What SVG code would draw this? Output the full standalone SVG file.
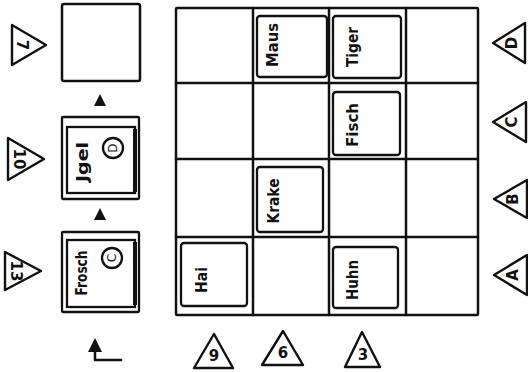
<svg xmlns="http://www.w3.org/2000/svg" width="528" height="372" viewBox="0 0 528 372">
<style>
.ln{fill:none;stroke:#111;stroke-width:2.5;stroke-linejoin:round;stroke-linecap:round}
.card{fill:none;stroke:#111;stroke-width:2.3;}
.tri{fill:#fff;stroke:#111;stroke-width:2.4;stroke-linejoin:round}
.t{font-family:"DejaVu Sans","Liberation Sans",sans-serif;font-size:15px;font-weight:bold;fill:#111;text-anchor:middle;dominant-baseline:central}
.c{font-weight:normal;font-size:12px}
.fill{fill:#111}
</style>
<rect width="528" height="372" fill="#fff"/>
<g id="grid">
<rect class="ln" x="176" y="8" width="302" height="307" rx="1"/>
<line class="ln" x1="253" y1="8" x2="253" y2="315"/>
<line class="ln" x1="329" y1="8" x2="329" y2="315"/>
<line class="ln" x1="406" y1="8" x2="406" y2="315"/>
<line class="ln" x1="176" y1="83" x2="478" y2="83"/>
<line class="ln" x1="176" y1="159" x2="478" y2="159"/>
<line class="ln" x1="176" y1="237" x2="478" y2="237"/>
</g>
<g id="maus"><rect class="card" x="257" y="16" width="70" height="61" rx="3"/><text class="t" transform="translate(273,45) rotate(-90)" textLength="44" lengthAdjust="spacingAndGlyphs">Maus</text></g>
<g id="tiger"><rect class="card" x="333" y="16" width="68" height="62" rx="3"/><text class="t" transform="translate(353,47) rotate(-90)" textLength="40" lengthAdjust="spacingAndGlyphs">Tiger</text></g>
<g id="fisch"><rect class="card" x="333" y="92" width="67" height="63" rx="3"/><text class="t" transform="translate(353,125) rotate(-90)" textLength="44" lengthAdjust="spacingAndGlyphs">Fisch</text></g>
<g id="krake"><rect class="card" x="257" y="167" width="66" height="65" rx="3"/><text class="t" transform="translate(274,201) rotate(-90)" textLength="45" lengthAdjust="spacingAndGlyphs">Krake</text></g>
<g id="hai"><rect class="card" x="181" y="243" width="66" height="63" rx="3"/><text class="t" transform="translate(202,280) rotate(-90)" textLength="26" lengthAdjust="spacingAndGlyphs">Hai</text></g>
<g id="huhn"><rect class="card" x="333" y="247" width="65" height="61" rx="3"/><text class="t" transform="translate(353,280) rotate(-90)" textLength="40" lengthAdjust="spacingAndGlyphs">Huhn</text></g>
<g id="empty"><rect class="ln" x="62" y="4" width="78" height="77" rx="2"/></g>
<g id="jgel">
<rect class="card" x="62" y="117" width="77" height="82" rx="1"/>
<rect class="card" x="67" y="127" width="68" height="66"/>
<rect class="fill" x="133" y="129" width="4" height="63"/>
<text class="t" transform="translate(83,162) rotate(-90)" textLength="40" lengthAdjust="spacingAndGlyphs">Jgel</text>
<circle class="card" cx="113" cy="148" r="10"/>
<text class="t c" transform="translate(113,148) rotate(-90)">D</text>
</g>
<g id="frosch">
<rect class="card" x="62" y="232" width="77" height="80" rx="1"/>
<rect class="card" x="67" y="240" width="68" height="67"/>
<rect class="fill" x="133" y="242" width="4" height="63"/>
<text class="t" transform="translate(82,273) rotate(-90)" textLength="45" lengthAdjust="spacingAndGlyphs">Frosch</text>
<circle class="card" cx="112" cy="258" r="10"/>
<text class="t c" transform="translate(112,258) rotate(-90)">C</text>
</g>
<g id="l7"><polygon class="tri" points="12,25 12,65 46,45"/><text class="t" transform="translate(22,45) rotate(90)" font-size="14">7</text></g>
<g id="l10"><polygon class="tri" points="8,138 8,180 44,159"/><text class="t" transform="translate(19,159) rotate(90)" font-size="13">10</text></g>
<g id="l13"><polygon class="tri" points="5,252 5,290 41,271"/><text class="t" transform="translate(16,271) rotate(90)" font-size="13">13</text></g>
<g id="b9"><polygon class="tri" points="194,368 233,368 214,334"/><text class="t" x="214" y="356" font-size="14">9</text></g>
<g id="b6"><polygon class="tri" points="262,365 303,365 283,331"/><text class="t" x="283" y="353" font-size="14">6</text></g>
<g id="b3"><polygon class="tri" points="345,367 380,367 362,332"/><text class="t" x="363" y="355" font-size="14">3</text></g>
<g id="rD"><polygon class="tri" points="493,43 525,23 525,63"/><text class="t" transform="translate(512,43) rotate(-90)" font-size="13">D</text></g>
<g id="rC"><polygon class="tri" points="493,122 526,102 526,142"/><text class="t" transform="translate(512,122) rotate(-90)" font-size="13">C</text></g>
<g id="rB"><polygon class="tri" points="494,199 527,180 527,218"/><text class="t" transform="translate(513,199) rotate(-90)" font-size="13">B</text></g>
<g id="rA"><polygon class="tri" points="494,275 527,255 527,295"/><text class="t" transform="translate(513,275) rotate(-90)" font-size="13">A</text></g>
<g id="connectors">
<polygon class="fill" points="100,94 94,106 106,106"/>
<polygon class="fill" points="100,208 94,220 106,220"/>
<polygon class="fill" points="95,338 88,352 102,352"/>
<polyline class="ln" points="95,351 95,360 121,360"/>
</g>
</svg>
